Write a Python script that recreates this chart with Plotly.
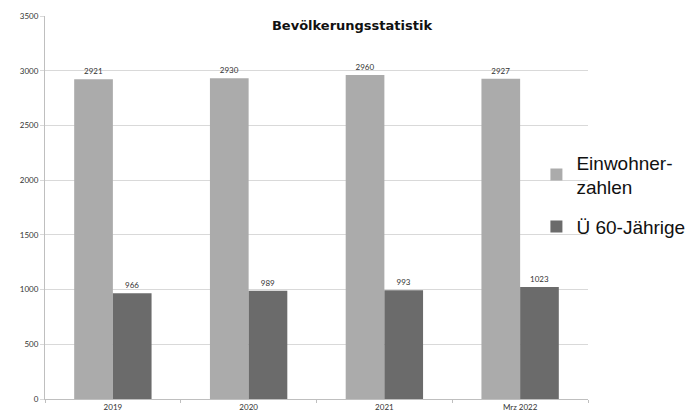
import plotly.graph_objects as go

categories = ["2019", "2020", "2021", "Mrz 2022"]
einwohner = [2921, 2930, 2960, 2927]
ue60 = [966, 989, 993, 1023]
y_ticks = [0, 500, 1000, 1500, 2000, 2500, 3000, 3500]

tick_font = dict(family="Lato, DejaVu Sans, sans-serif", size=8, color="#333333")
legend_font = dict(family="Liberation Sans, Arial, sans-serif", size=19, color="#111111")

fig = go.Figure()
fig.add_trace(go.Bar(
    x=categories, y=einwohner, name="Einwohner-<br>zahlen", legendgroup="a",
    marker=dict(color="#ababab", line=dict(width=0)),
    text=[str(v) for v in einwohner], textposition="outside",
    textfont=tick_font, cliponaxis=False,
))
fig.add_trace(go.Bar(
    x=categories, y=ue60, name="Ü 60-Jährige", legendgroup="b",
    marker=dict(color="#6b6b6b", line=dict(width=0)),
    text=[str(v) for v in ue60], textposition="outside",
    textfont=tick_font, cliponaxis=False,
))

# page body adds an 8px margin, so the figure is sized/placed to compensate
fig.update_layout(
    width=688, height=409,
    margin=dict(l=37, r=108, t=8, b=18, autoexpand=False),
    paper_bgcolor="white", plot_bgcolor="white",
    barmode="group", bargap=0.43, bargroupgap=0,
    title=dict(text="<b>Bevölkerungsstatistik</b>", x=0.5, xanchor="center",
               y=1 - 17 / 409, yanchor="middle", yref="container",
               font=dict(family="DejaVu Sans, sans-serif", size=13, color="#111111")),
    legend=dict(x=0.905, xanchor="left", y=0.533, yanchor="middle",
                bgcolor="rgba(0,0,0,0)", font=legend_font, tracegroupgap=12,
                itemwidth=30),
    showlegend=True,
)
fig.update_xaxes(
    type="category", showgrid=False, showline=True, linecolor="#bfbfbf", linewidth=1,
    ticks="outside", tickson="boundaries", ticklen=3, tickcolor="#bfbfbf",
    tickfont=tick_font,
)
fig.update_yaxes(
    range=[0, 3500], tickvals=y_ticks, showgrid=True, gridcolor="#d9d9d9", gridwidth=1,
    showline=True, linecolor="#bfbfbf", linewidth=1, ticks="outside", ticklen=4,
    tickcolor="#d9d9d9", tickfont=tick_font, zeroline=False,
)

fig.write_html("out.html")
